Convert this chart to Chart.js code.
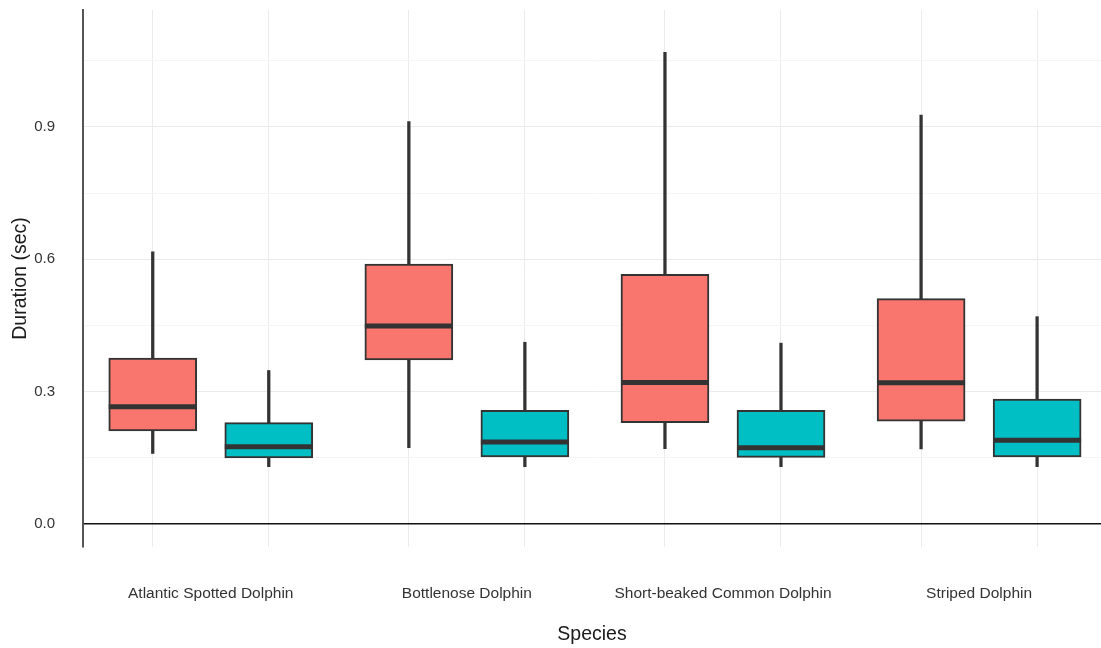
<!DOCTYPE html>
<html>
<head>
<meta charset="utf-8">
<script src="https://cdn.jsdelivr.net/npm/chart.js@4"></script>
<style>
  html, body { margin: 0; padding: 0; background: #ffffff; }
  #wrap { width: 1101px; height: 648px; }
</style>
</head>
<body>
<div id="wrap"><canvas id="c" width="1101" height="648"></canvas></div>
<script>
// ---- data ----
const categories = ["Atlantic Spotted Dolphin", "Bottlenose Dolphin", "Short-beaked Common Dolphin", "Striped Dolphin"];

// group A (red)
const redLow    = [0.160, 0.173, 0.171, 0.170];
const redQ1     = [0.211, 0.372, 0.230, 0.233];
const redMedian = [0.266, 0.449, 0.321, 0.320];
const redQ3     = [0.376, 0.589, 0.566, 0.511];
const redHigh   = [0.617, 0.912, 1.069, 0.927];

// group B (teal)
const tealLow    = [0.130, 0.130, 0.130, 0.130];
const tealQ1     = [0.150, 0.152, 0.151, 0.152];
const tealMedian = [0.175, 0.186, 0.173, 0.190];
const tealQ3     = [0.230, 0.258, 0.258, 0.283];
const tealHigh   = [0.348, 0.412, 0.410, 0.470];

const yMajorTicks = [0.0, 0.3, 0.6, 0.9];
const yTickLabels = ["0.0", "0.3", "0.6", "0.9"];
const yMinorTicks = [0.15, 0.45, 0.75, 1.05];

// ---- layout helpers ----
const DODGE = 0.2265;
const catPos = categories.map((_, i) => i + 1);
const redPos = catPos.map(c => c - DODGE);
const tealPos = catPos.map(c => c + DODGE);

const RED = '#F8766D';
const TEAL = '#00BFC4';
const DARK = '#333333';
const FONT = '"Liberation Sans", Arial, sans-serif';

function rangeData(pos, lo, hi) { return pos.map((x, i) => ({ x: x, y: [lo[i], hi[i]] })); }
function pointData(pos, v) { return pos.map((x, i) => ({ x: x, y: v[i] })); }

const datasets = [
  // medians (top-most)
  { type: 'scatter', data: pointData(redPos, redMedian), pointStyle: 'line', pointRadius: 44, pointHoverRadius: 44,
    borderColor: DARK, borderWidth: 5, backgroundColor: DARK, order: 0, clip: false },
  { type: 'scatter', data: pointData(tealPos, tealMedian), pointStyle: 'line', pointRadius: 44, pointHoverRadius: 44,
    borderColor: DARK, borderWidth: 5, backgroundColor: DARK, order: 0, clip: false },
  // boxes
  { type: 'bar', data: rangeData(redPos, redQ1, redQ3), backgroundColor: RED, borderColor: DARK, borderWidth: 2,
    borderSkipped: false, barThickness: 88, grouped: false, order: 1 },
  { type: 'bar', data: rangeData(tealPos, tealQ1, tealQ3), backgroundColor: TEAL, borderColor: DARK, borderWidth: 2,
    borderSkipped: false, barThickness: 88, grouped: false, order: 1 },
  // whiskers
  { type: 'bar', data: rangeData(redPos, redLow, redHigh), backgroundColor: DARK, borderWidth: 0,
    barThickness: 2.6, grouped: false, order: 2 },
  { type: 'bar', data: rangeData(tealPos, tealLow, tealHigh), backgroundColor: DARK, borderWidth: 0,
    barThickness: 2.6, grouped: false, order: 2 }
];

const xTickValues = [...redPos, ...tealPos, ...catPos].sort((a, b) => a - b);
const yTickValues = [...yMajorTicks, ...yMinorTicks].sort((a, b) => a - b);

function isCenter(v) { return catPos.some(c => Math.abs(c - v) < 1e-6); }
function isMajor(v) { return yMajorTicks.some(t => Math.abs(t - v) < 1e-6); }

new Chart(document.getElementById('c'), {
  type: 'bar',
  data: { datasets: datasets },
  options: {
    responsive: false,
    devicePixelRatio: 1,
    animation: false,
    layout: { autoPadding: false, padding: { top: 10, right: 0, left: 0, bottom: 0 } },
    plugins: { legend: { display: false }, tooltip: { enabled: false } },
    scales: {
      x: {
        type: 'linear',
        min: 0.5012,
        max: 4.476,
        offset: false,
        afterBuildTicks: s => { s.ticks = xTickValues.map(v => ({ value: v })); },
        afterFit: s => { s.height = 101; s.paddingLeft = 0; s.paddingRight = 0; },
        grid: {
          offset: false,
          drawTicks: false,
          color: ctx => (ctx.tick && isCenter(ctx.tick.value)) ? 'rgba(0,0,0,0)' : '#ebebeb',
          lineWidth: 1
        },
        border: { display: false },
        ticks: {
          autoSkip: false,
          maxRotation: 0,
          padding: 37,
          color: '#333333',
          font: { family: FONT, size: 15.5 },
          callback: v => {
            const i = catPos.findIndex(c => Math.abs(c - v) < 1e-6);
            return i >= 0 ? categories[i] : '';
          }
        },
        title: {
          display: true,
          text: 'Species',
          color: '#1a1a1a',
          font: { family: FONT, size: 19.5 },
          padding: { top: 0, bottom: 2 }
        }
      },
      y: {
        type: 'linear',
        min: -0.052,
        max: 1.165,
        afterBuildTicks: s => { s.ticks = yTickValues.map(v => ({ value: v })); },
        afterFit: s => { s.width = 83; s.paddingTop = 0; s.paddingBottom = 0; },
        grid: {
          drawTicks: false,
          color: ctx => {
            if (!ctx.tick) return '#ebebeb';
            const v = ctx.tick.value;
            if (Math.abs(v) < 1e-6) return '#111111';
            return isMajor(v) ? '#ebebeb' : '#f5f5f5';
          },
          lineWidth: ctx => (ctx.tick && Math.abs(ctx.tick.value) < 1e-6) ? 1.5 : 1
        },
        border: { display: true, color: '#555555', width: 2 },
        ticks: {
          padding: 28,
          color: '#333333',
          font: { family: FONT, size: 15 },
          callback: v => {
            const i = yMajorTicks.findIndex(t => Math.abs(t - v) < 1e-6);
            return i >= 0 ? yTickLabels[i] : '';
          }
        },
        title: {
          display: true,
          text: 'Duration (sec)',
          color: '#1a1a1a',
          font: { family: FONT, size: 19.5 },
          padding: { top: 9, bottom: 0 }
        }
      }
    }
  }
});
</script>
</body>
</html>
